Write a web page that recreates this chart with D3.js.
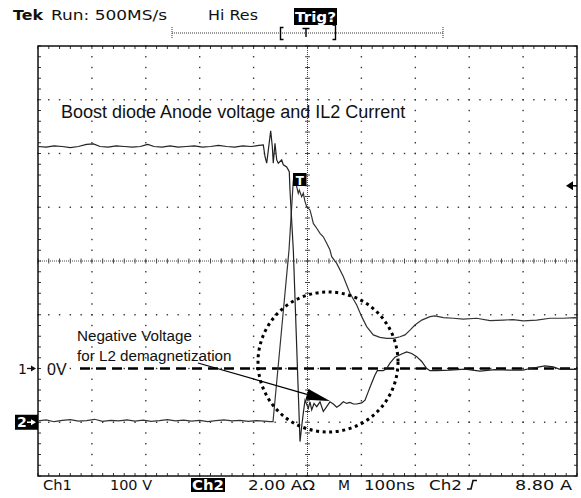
<!DOCTYPE html>
<html>
<head>
<meta charset="utf-8">
<script src="https://cdn.jsdelivr.net/npm/d3@7"></script>
<style>
  body { margin: 0; background: #fff; }
  svg { display: block; }
</style>
</head>
<body>
<svg id="scope" width="581" height="498"></svg>
<script>
// Channel 1: boost diode anode voltage (V), sampled times in ns relative to trigger
const ch1Time = [-500,-485,-470,-455,-440,-425,-410,-397,-385,-370,-355,-340,-325,-310,-300,-296,-285,-270,-255,-240,-225,-210,-195,-180,-165,-150,-135,-120,-105,-90,-82,
  -78.8,-75.7,-72.7,-68.3,-65.3,-63.5,-60.3,-57.1,-54.2,-51.0,-47.9,-44.9,-38.6,-33.8,-32.5,-26.3,-13.9,-10.8,-7.8,-4.6,1.5,4.6,7.8,12.1,17.1,23.2,29.3,35.6,41.7,47.9,54.2,60.3,66.4,72.7,78.8,85.0,91.3,100.6,106.7,112.8,119.1,125.2,129.5,140.6,146.9,153.0,162.3,174.8,184.0,193.3,202.6,211.9,221.2,227.3,239.7,264.4,292.2,320,347.9,375.7,399.8,412.8,425.2,440.6,456,468.5,483.3,500];
const ch1Volt = [413,412,414,413,411,413,417,418,413,412,414,413,412,413,416,417,413,412,414,412,413,414,412,413,415,413,412,414,413,415,416,
  394,382,406,442,413,382,419,388,382,385,388,379,375,366,332,220,-136,-108,-83,-59,-74,-62,-77,-65,-71,-62,-80,-71,-62,-66,-72,-68,-62,-65,-63,-66,-66,-64,-59,-43,-27,-12,-4,-4,0,10,21,27,31,28,22,13,0,-4,-4,-3,-1,-5,-2,-3,-3,0,2,5,3,-1.5,-1,-1.5];

// Channel 2: L2 current (A)
const ch2Time = [-500,-485,-470,-455,-440,-425,-410,-395,-380,-365,-350,-335,-320,-305,-290,-275,-260,-245,-230,-215,-200,-185,-170,-155,-140,-125,-110,-95,-80,-70,-64,
  -34.3,-26.3,-22.3,-20.0,-17.1,-15.2,-10.8,-7.8,-4.6,-1.5,4.6,7.8,10.8,17.1,23.2,29.3,35.6,41.7,44.9,54.2,66.4,78.8,91.3,100.6,109.8,122.1,134.5,146.9,159.2,171.6,180.9,190.2,199.4,211.9,227.3,236.5,252.0,270.5,289.1,313.9,338.6,363.3,381.3,400.4,425.2,449.9,474.6,496.3,500];
const ch2Amp = [0.05,0.09,0.02,0.07,0.10,0.04,0.06,0.11,0.03,0.07,0.05,0.09,0.04,0.08,0.03,0.06,0.10,0.05,0.08,0.04,0.07,0.02,0.06,0.09,0.05,0.07,0.03,0.06,0.04,0.02,0.02,
  6.41,9.01,9.16,8.76,8.52,8.64,8.39,8.52,8.21,8.02,7.90,7.65,7.40,7.22,7.03,6.90,6.66,6.41,6.16,5.91,5.42,4.80,4.36,3.93,3.56,3.25,3.16,3.12,3.12,3.18,3.25,3.43,3.62,3.80,3.93,3.96,3.89,3.87,3.84,3.87,3.78,3.80,3.82,3.77,3.80,3.87,3.87,3.89,3.88];

// Scope settings
const voltsPerDiv = 100;     // Ch1
const ampsPerDiv = 2;        // Ch2
const ch1Offset = -2;        // ground position, divisions
const ch2Offset = -3;
const triggerLevel = 8.80;   // A on Ch2
const headerLabels = ["Tek", "Run: 500MS/s", "Hi Res", "Trig?"];
const footerLabels = ["Ch1", "100 V", "Ch2", "2.00 A\u03a9", "M", "100ns", "Ch2", "8.80 A"];

const svg = d3.select("#scope");
const L = 38, R = 577, T = 46, B = 476;
const x = d3.scaleLinear().domain([-500, 500]).range([L, R]);
const yDiv = d3.scaleLinear().domain([-4, 4]).range([B, T]);
const y1 = v => yDiv(v / voltsPerDiv + ch1Offset);
const y2 = a => yDiv(a / ampsPerDiv + ch2Offset);

const minorX = d3.range(0, 51).map(i => -500 + i * 20);
const minorY = d3.range(0, 41).map(i => -4 + i * 0.2);

const grid = svg.append("g");
// major grid lines drawn as dots at each minor division
[-3, -2, -1, 1, 2, 3].forEach(d => {
  grid.selectAll(null).data(minorX).enter().append("rect")
    .attr("x", t => x(t) - 0.7).attr("y", yDiv(d) - 0.7)
    .attr("width", 1.4).attr("height", 1.4).attr("fill", "#333");
});
[-400, -300, -200, -100, 100, 200, 300, 400].forEach(t0 => {
  grid.selectAll(null).data(minorY).enter().append("rect")
    .attr("x", x(t0) - 0.7).attr("y", d => yDiv(d) - 0.7)
    .attr("width", 1.4).attr("height", 1.4).attr("fill", "#333");
});
// center cross with tick marks
grid.append("line").attr("x1", L).attr("x2", R).attr("y1", yDiv(0)).attr("y2", yDiv(0))
  .attr("stroke", "#444").attr("stroke-dasharray", "1,1");
grid.append("line").attr("x1", x(0)).attr("x2", x(0)).attr("y1", T).attr("y2", B)
  .attr("stroke", "#444").attr("stroke-dasharray", "1,1");
grid.selectAll(null).data(minorX).enter().append("line")
  .attr("x1", t => x(t)).attr("x2", t => x(t))
  .attr("y1", yDiv(0) - 2.5).attr("y2", yDiv(0) + 2.5).attr("stroke", "#444");
grid.selectAll(null).data(minorY).enter().append("line")
  .attr("y1", d => yDiv(d)).attr("y2", d => yDiv(d))
  .attr("x1", x(0) - 2.5).attr("x2", x(0) + 2.5).attr("stroke", "#444");
// border ticks
grid.selectAll(null).data(minorX).enter().append("line")
  .attr("x1", t => x(t)).attr("x2", t => x(t)).attr("y1", T).attr("y2", T + 3).attr("stroke", "#333");
grid.selectAll(null).data(minorX).enter().append("line")
  .attr("x1", t => x(t)).attr("x2", t => x(t)).attr("y1", B).attr("y2", B - 3).attr("stroke", "#333");
grid.selectAll(null).data(minorY).enter().append("line")
  .attr("y1", d => yDiv(d)).attr("y2", d => yDiv(d)).attr("x1", L).attr("x2", L + 3).attr("stroke", "#333");
grid.selectAll(null).data(minorY).enter().append("line")
  .attr("y1", d => yDiv(d)).attr("y2", d => yDiv(d)).attr("x1", R).attr("x2", R - 3).attr("stroke", "#333");
grid.append("rect").attr("x", L).attr("y", T).attr("width", R - L).attr("height", B - T)
  .attr("fill", "none").attr("stroke", "#111").attr("stroke-width", 1.5);

// 0 V reference line
svg.append("line").attr("x1", 80).attr("x2", R).attr("y1", y1(0)).attr("y2", y1(0))
  .attr("stroke", "#000").attr("stroke-width", 2.6).attr("stroke-dasharray", "10,6");

// waveforms
const line1 = d3.line().x((d, i) => x(ch1Time[i])).y(d => y1(d));
const line2 = d3.line().x((d, i) => x(ch2Time[i])).y(d => y2(d));
svg.append("path").datum(ch2Amp).attr("d", line2)
  .attr("fill", "none").attr("stroke", "#333").attr("stroke-width", 1.2);
svg.append("path").datum(ch1Volt).attr("d", line1)
  .attr("fill", "none").attr("stroke", "#222").attr("stroke-width", 1.2);

// trigger point marker on Ch2
const tmx = 293, tmy = 173;
svg.append("rect").attr("x", tmx).attr("y", tmy).attr("width", 13.5).attr("height", 13).attr("fill", "#000");
svg.append("text").attr("x", tmx + 6.75).attr("y", tmy + 11.5).attr("text-anchor", "middle")
  .attr("font-family", "DejaVu Sans").attr("font-weight", "bold").attr("font-size", 12)
  .attr("fill", "#fff").text("T");

// trigger level arrow on right edge
const ty = y2(triggerLevel);
svg.append("path").attr("d", `M566,${ty} L573,${ty - 4.5} L573,${ty + 4.5} Z`).attr("fill", "#000");
svg.append("line").attr("x1", 573).attr("x2", R).attr("y1", ty).attr("y2", ty).attr("stroke", "#000").attr("stroke-width", 1.5);

// annotation: dotted circle and arrow
svg.append("circle").attr("cx", 328).attr("cy", 362).attr("r", 70)
  .attr("fill", "none").attr("stroke", "#000").attr("stroke-width", 3).attr("stroke-dasharray", "3,3.6");
const ax0 = 198, ay0 = 363, ax1 = 330, ay1 = 401;
const ang = Math.atan2(ay1 - ay0, ax1 - ax0);
const bx = ax1 - 24 * Math.cos(ang), by = ay1 - 24 * Math.sin(ang);
const px = -Math.sin(ang) * 5.5, py = Math.cos(ang) * 5.5;
svg.append("line").attr("x1", ax0).attr("y1", ay0).attr("x2", bx).attr("y2", by)
  .attr("stroke", "#000").attr("stroke-width", 1.3);
svg.append("path").attr("d", `M${ax1},${ay1} L${bx + px},${by + py} L${bx - px},${by - py} Z`).attr("fill", "#000");

const ann = svg.append("g").attr("font-family", "Liberation Sans, Arial, sans-serif").attr("fill", "#111");
ann.append("text").attr("x", 61).attr("y", 118).attr("font-size", 18)
  .text("Boost diode Anode voltage and IL2 Current");
ann.append("text").attr("x", 77).attr("y", 341).attr("font-size", 15.2).text("Negative Voltage");
ann.append("text").attr("x", 77).attr("y", 361).attr("font-size", 15.2).text("for L2 demagnetization");
ann.append("text").attr("x", 47).attr("y", y1(0) + 6).attr("font-size", 16).text("0V");

// channel ground markers
const scopeFont = "DejaVu Sans, sans-serif";
svg.append("text").attr("x", 18).attr("y", y1(0) + 5).attr("font-family", scopeFont)
  .attr("font-size", 14).attr("fill", "#111").text("1");
svg.append("line").attr("x1", 27).attr("x2", 32).attr("y1", y1(0)).attr("y2", y1(0)).attr("stroke", "#111").attr("stroke-width", 1.3);
svg.append("path").attr("d", `M36,${y1(0)} L31,${y1(0) - 3} L31,${y1(0) + 3} Z`).attr("fill", "#111");
const m2 = y2(0);
svg.append("rect").attr("x", 15).attr("y", m2 - 7.5).attr("width", 23).attr("height", 15).attr("fill", "#000");
svg.append("text").attr("x", 17).attr("y", m2 + 5).attr("font-family", scopeFont)
  .attr("font-weight", "bold").attr("font-size", 14).attr("fill", "#fff").text("2");
svg.append("line").attr("x1", 27).attr("x2", 32).attr("y1", m2).attr("y2", m2).attr("stroke", "#fff").attr("stroke-width", 1.5);
svg.append("path").attr("d", `M36,${m2} L31,${m2 - 3} L31,${m2 + 3} Z`).attr("fill", "#fff");

// header
const hdr = svg.append("g").attr("font-family", scopeFont).attr("font-size", 14).attr("fill", "#111");
hdr.append("text").attr("x", 13).attr("y", 20).attr("font-weight", "bold")
  .attr("textLength", 30).attr("lengthAdjust", "spacingAndGlyphs").text(headerLabels[0]);
hdr.append("text").attr("x", 51).attr("y", 20)
  .attr("textLength", 116).attr("lengthAdjust", "spacingAndGlyphs").text(headerLabels[1]);
hdr.append("text").attr("x", 208).attr("y", 20)
  .attr("textLength", 50).attr("lengthAdjust", "spacingAndGlyphs").text(headerLabels[2]);
hdr.append("rect").attr("x", 294).attr("y", 8).attr("width", 43).attr("height", 17).attr("fill", "#000");
hdr.append("text").attr("x", 295).attr("y", 21.5).attr("fill", "#fff").attr("font-weight", "bold")
  .attr("textLength", 41).attr("lengthAdjust", "spacingAndGlyphs").text(headerLabels[3]);

// record view bar
const rb = svg.append("g").attr("stroke", "#333").attr("fill", "none");
rb.append("line").attr("x1", 172).attr("x2", 443).attr("y1", 33).attr("y2", 33).attr("stroke-dasharray", "1,1");
rb.append("line").attr("x1", 172).attr("x2", 172).attr("y1", 27).attr("y2", 39).attr("stroke-dasharray", "1,1");
rb.append("line").attr("x1", 443).attr("x2", 443).attr("y1", 27).attr("y2", 39).attr("stroke-dasharray", "1,1");
rb.append("path").attr("d", "M283.5,27.5 H280.5 V39.5 H283.5").attr("stroke", "#000").attr("stroke-width", 1.4);
rb.append("path").attr("d", "M332.5,25 H335.5 V39.5 H332.5").attr("stroke", "#000").attr("stroke-width", 1.4);
rb.append("path").attr("d", "M302.5,28.5 H309.5 M306,28.5 V37").attr("stroke", "#000").attr("stroke-width", 1.4);

// footer readout
const ft = svg.append("g").attr("font-family", scopeFont).attr("font-size", 14).attr("fill", "#111");
const fy = 489.5;
const footerPos = [[43, 29], [110, 42], [192, 32], [248, 67], [338, 12], [364, 51], [429, 33], [515, 57]];
ft.append("rect").attr("x", 191).attr("y", 478).attr("width", 34).attr("height", 14).attr("fill", "#000");
footerLabels.forEach((s, i) => {
  ft.append("text").attr("x", footerPos[i][0]).attr("y", fy)
    .attr("textLength", footerPos[i][1]).attr("lengthAdjust", "spacingAndGlyphs")
    .attr("fill", i === 2 ? "#fff" : "#111").attr("font-weight", i === 2 ? "bold" : "normal")
    .text(s);
});
// rising-edge slope symbol
svg.append("path").attr("d", "M467,489 H471 L473,480.5 H477").attr("fill", "none").attr("stroke", "#111").attr("stroke-width", 1.6);
</script>
</body>
</html>
